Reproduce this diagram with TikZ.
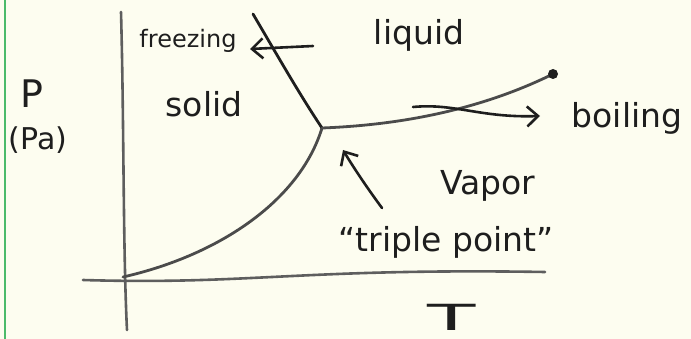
\documentclass[tikz,border=0pt]{standalone}
\usepackage{fontspec}
\setmainfont{DejaVu Sans}
\usetikzlibrary{arrows.meta}
\definecolor{paper}{HTML}{FDFDF0}
\definecolor{margin}{HTML}{4CBB6A}
\definecolor{ink}{HTML}{1E1E1E}
\definecolor{pencil}{HTML}{5E5E5E}
\tikzset{
  axisline/.style={draw=pencil, line width=2.6pt, line cap=round},
  curveline/.style={draw=pencil!80!black, line width=2.8pt, line cap=round},
  hand/.style={ink, inner sep=0pt, anchor=base},
  arrowline/.style={draw=ink, line width=2.6pt, line cap=round, -{Straight Barb[length=11pt, width=20pt, line width=2.6pt]}},
}
\begin{document}
\begin{tikzpicture}[x=1pt, y=-1pt]
\useasboundingbox (0,0) rectangle (691,339);
\fill[paper] (0,0) rectangle (691,339);
\draw[margin, line width=2pt] (5,0) -- (5,339);

% named points
\coordinate (ytop) at (121,12);
\coordinate (ybot) at (127,330);
\coordinate (xl) at (83,280);
\coordinate (xr) at (545,272);
\coordinate (org) at (123,277);
\coordinate (tp) at (322,128);
\coordinate (mtop) at (253,14);
\coordinate (crit) at (553,74);
\coordinate (fs) at (313,46);
\coordinate (fe) at (250,49);
\coordinate (bs) at (413,107);
\coordinate (be) at (540,116);
\coordinate (ts) at (382,208);
\coordinate (te) at (343,150);

% axes
\draw[axisline] (ytop) .. controls (124,120) and (123,250) .. (ybot);
\draw[axisline] (xl) .. controls (250,285) and (300,268) .. (xr);

% phase boundaries
\draw[curveline] (org) .. controls (220,255) and (300,200) .. (tp);
\draw[curveline, draw=ink] (mtop) .. controls (280,60) and (300,95) .. (tp);
\draw[curveline] (tp) .. controls (400,125) and (480,110) .. (crit);
\fill[ink] (crit) circle (5pt);

% arrows
\draw[arrowline] (fs) -- (fe);
\draw[arrowline] (bs) .. controls (455,103) and (480,118) .. (be);
\draw[arrowline] (ts) .. controls (365,185) and (352,165) .. (te);

% labels
\node[hand, font=\fontsize{24}{26}\selectfont] (freezing) at (188,48) {freezing};
\node[hand, font=\fontsize{33}{36}\selectfont] (liquid) at (419,45) {liquid};
\node[hand, font=\fontsize{33}{36}\selectfont] (solid) at (204,117) {solid};
\node[hand, font=\fontsize{33}{36}\selectfont] (boiling) at (627,128) {boiling};
\node[hand, font=\fontsize{33}{36}\selectfont] (vapor) at (488,195) {Vapor};
\node[hand, font=\fontsize{33}{36}\selectfont] (triple) at (446,252) {``triple point''};
\node[hand, font=\fontsize{38}{40}\selectfont] (P) at (32,108) {P};
\node[hand, font=\fontsize{30}{32}\selectfont] (Pa) at (38,150) {(Pa)};
\node[hand, font=\fontsize{36}{38}\selectfont, xscale=2.2] (T) at (452,330) {T};
\end{tikzpicture}
\end{document}
